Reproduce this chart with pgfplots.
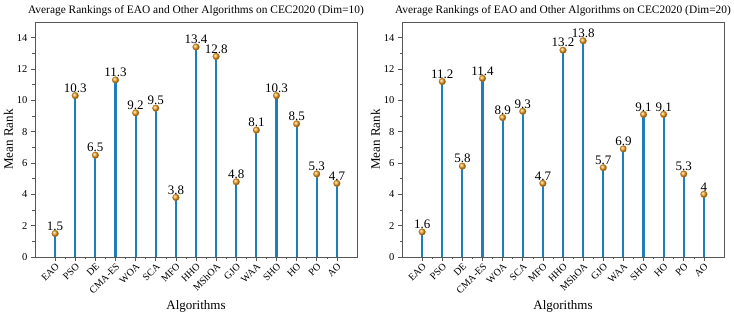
\documentclass[border=0pt]{standalone}
\usepackage{pgfplots}
\pgfplotsset{compat=1.18}
\usepackage{fontspec}
\setmainfont{Liberation Serif}
\definecolor{stem}{HTML}{1F7DB8}
\definecolor{dot}{HTML}{F7A325}
\definecolor{frame}{HTML}{555555}
\pgfplotsset{
  stemstyle/.style={
    width=322pt, height=235pt, scale only axis,
    xmin=0, xmax=16, ymin=0, ymax=15,
    xtick={1,...,15},
    xticklabels={EAO,PSO,DE,CMA-ES,WOA,SCA,MFO,HHO,MShOA,GJO,WAA,SHO,HO,PO,AO},
    x tick label style={rotate=45, anchor=north east, font=\fontsize{10}{12}\selectfont, inner sep=1pt},
    ytick={0,2,...,14},
    y tick label style={font=\fontsize{10.5}{12}\selectfont},
    minor x tick num=1, minor y tick num=1,
    tick align=outside, xtick pos=bottom, ytick pos=left,
    major tick length=4pt, minor tick length=2.5pt,
    tick style={frame, line width=0.6pt},
    axis line style={frame, line width=0.7pt},
    /pgf/number format/assume math mode=true,
    title style={font=\fontsize{11.4}{13}\selectfont, yshift=-3pt},
    xlabel={Algorithms}, ylabel={Mean Rank},
    label style={font=\fontsize{13}{14}\selectfont},
    xlabel style={yshift=-1pt},
    ylabel style={yshift=-3pt},
    dotstyle/.style={only marks, mark=ball, ball color=dot, mark size=3.4pt,
      mark options={draw=dot!80!black, line width=0.2pt},
      point meta=explicit symbolic,
      nodes near coords, nodes near coords style={font=\fontsize{13}{14}\selectfont, text=black, inner sep=1pt, yshift=2pt}},
  }
}
\begin{document}
\begin{tikzpicture}[x=1pt,y=1pt]
\path[use as bounding box] (0,0) rectangle (734,318);
\begin{axis}[stemstyle, at={(35pt,61pt)}, anchor=south west,
  title={Average Rankings of EAO and Other Algorithms on CEC2020 (Dim=10)}]
\addplot[ycomb, stem, line width=2.2pt] coordinates {
(1,1.5)(2,10.3)(3,6.5)(4,11.3)(5,9.2)(6,9.5)(7,3.8)(8,13.4)(9,12.8)(10,4.8)(11,8.1)(12,10.3)(13,8.5)(14,5.3)(15,4.7)};
\addplot[dotstyle]
coordinates {
(1,1.5)[1.5](2,10.3)[10.3](3,6.5)[6.5](4,11.3)[11.3](5,9.2)[9.2](6,9.5)[9.5](7,3.8)[3.8](8,13.4)[13.4](9,12.8)[12.8](10,4.8)[4.8](11,8.1)[8.1](12,10.3)[10.3](13,8.5)[8.5](14,5.3)[5.3](15,4.7)[4.7]};
\end{axis}
\begin{axis}[stemstyle, at={(402pt,61pt)}, anchor=south west,
  title={Average Rankings of EAO and Other Algorithms on CEC2020 (Dim=20)}]
\addplot[ycomb, stem, line width=2.2pt] coordinates {
(1,1.6)(2,11.2)(3,5.8)(4,11.4)(5,8.9)(6,9.3)(7,4.7)(8,13.2)(9,13.8)(10,5.7)(11,6.9)(12,9.1)(13,9.1)(14,5.3)(15,4)};
\addplot[dotstyle]
coordinates {
(1,1.6)[1.6](2,11.2)[11.2](3,5.8)[5.8](4,11.4)[11.4](5,8.9)[8.9](6,9.3)[9.3](7,4.7)[4.7](8,13.2)[13.2](9,13.8)[13.8](10,5.7)[5.7](11,6.9)[6.9](12,9.1)[9.1](13,9.1)[9.1](14,5.3)[5.3](15,4)[4]};
\end{axis}
\end{tikzpicture}
\end{document}
